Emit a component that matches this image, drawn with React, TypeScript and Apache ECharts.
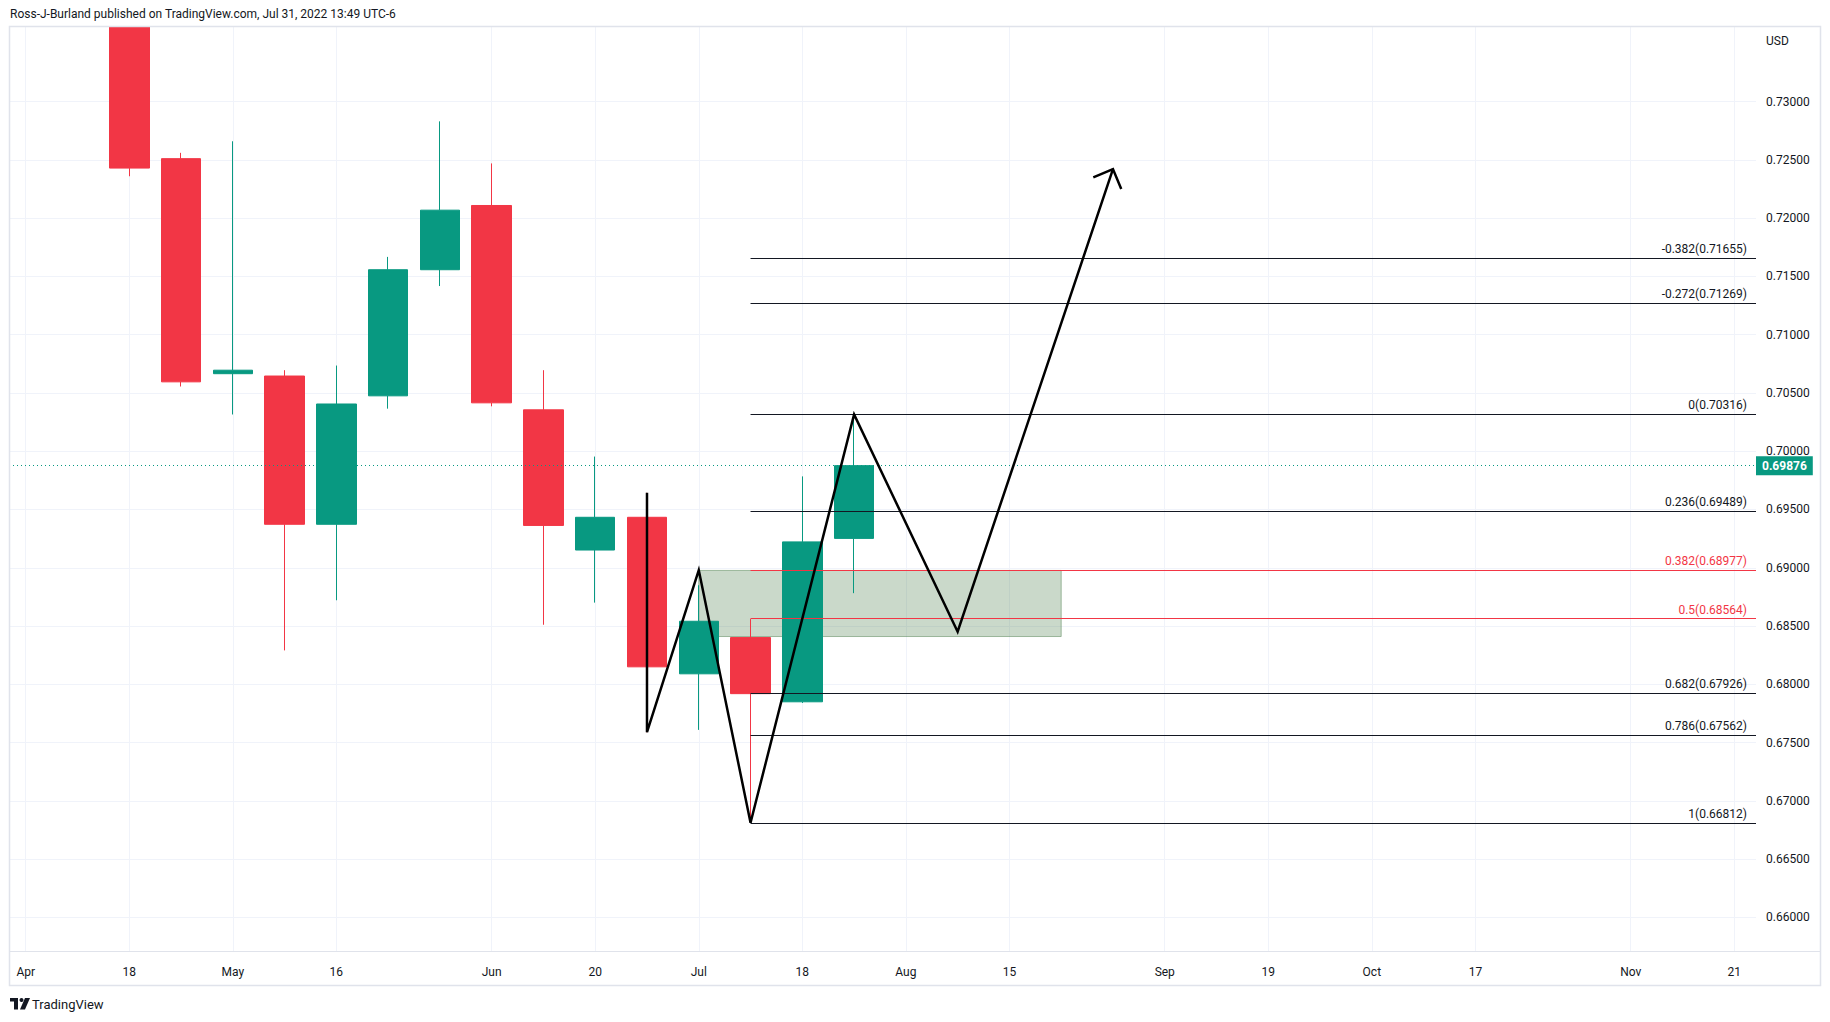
import React, { useEffect, useRef } from "react";
import * as echarts from "echarts";

// ---------- data ----------
const originDate = "2022-04-04";

const candleDates = [
  "2022-04-18", "2022-04-25", "2022-05-02", "2022-05-09", "2022-05-16",
  "2022-05-23", "2022-05-30", "2022-06-06", "2022-06-13", "2022-06-20",
  "2022-06-27", "2022-07-04", "2022-07-11", "2022-07-18", "2022-07-25",
];
const openValues = [0.738, 0.7251, 0.70665, 0.70645, 0.69373, 0.70475, 0.71557, 0.72108, 0.70355, 0.69152, 0.69433, 0.6809, 0.68401, 0.6785, 0.69252];
const closeValues = [0.72429, 0.70595, 0.70695, 0.69373, 0.70405, 0.71557, 0.72068, 0.70415, 0.69363, 0.69433, 0.6815, 0.68541, 0.6792, 0.69222, 0.69876];
const lowValues = [0.72359, 0.70555, 0.70315, 0.68291, 0.68721, 0.70365, 0.71417, 0.70385, 0.68511, 0.68701, 0.67589, 0.67609, 0.66812, 0.6784, 0.68782];
const highValues = [0.7458, 0.7256, 0.72659, 0.70695, 0.70735, 0.71667, 0.7283, 0.72469, 0.70695, 0.69954, 0.69643, 0.6885, 0.6856, 0.69784, 0.70316];

const xTickDates = [
  "2022-04-04", "2022-04-18", "2022-05-02", "2022-05-16", "2022-06-06", "2022-06-20",
  "2022-07-04", "2022-07-18", "2022-08-01", "2022-08-15", "2022-09-05", "2022-09-19",
  "2022-10-03", "2022-10-17", "2022-11-07", "2022-11-21",
];
const xTickLabels = ["Apr", "18", "May", "16", "Jun", "20", "Jul", "18", "Aug", "15", "Sep", "19", "Oct", "17", "Nov", "21"];

const yTickValues = [0.66, 0.665, 0.67, 0.675, 0.68, 0.685, 0.69, 0.695, 0.7, 0.705, 0.71, 0.715, 0.72, 0.725, 0.73];

const lastPrice = 0.69876;

const fibStartDate = "2022-07-11";
const fibLevels = ["-0.382", "-0.272", "0", "0.236", "0.382", "0.5", "0.682", "0.786", "1"];
const fibValues = [0.71655, 0.71269, 0.70316, 0.69489, 0.68977, 0.68564, 0.67926, 0.67562, 0.66812];
const fibRedLevels = ["0.382", "0.5"];

const boxStartDate = "2022-07-04";
const boxEndDate = "2022-08-22";
const boxTop = 0.68977;
const boxBottom = 0.6841;

const zigzagDates = ["2022-06-27", "2022-06-27", "2022-07-04", "2022-07-11", "2022-07-25", "2022-08-08", "2022-08-29"];
const zigzagValues = [0.69643, 0.67589, 0.6898, 0.66812, 0.70316, 0.68451, 0.7242];
// arrow head wings: [week index, price]
const arrowWingLeft = [20.62, 0.7235];
const arrowWingRight = [21.16, 0.7225];

const headerText = "Ross-J-Burland published on TradingView.com, Jul 31, 2022 13:49 UTC-6";

// ---------- helpers / styles ----------
const DAY = 86400000;
const wk = (d: string) =>
  (Date.parse(d + "T00:00:00Z") - Date.parse(originDate + "T00:00:00Z")) / (7 * DAY);

const GREEN = "#089981";
const RED = "#f23645";
const TEXT = "#131722";
const GRID = "#f0f3fa";
const FONT = "Roboto, 'Noto Sans', sans-serif";

const X_MIN = -0.3226;
const X_MAX = 33.42;
const Y_MIN = 0.65712;
const Y_MAX = 0.73648;

export default function App() {
  const ref = useRef<HTMLDivElement>(null);

  useEffect(() => {
    if (!ref.current) return;
    const chart = echarts.init(ref.current, undefined, { renderer: "svg" });

    const xTicks = xTickDates.map(wk);
    const candleData = candleDates.map((d, i) => [wk(d), openValues[i], closeValues[i], lowValues[i], highValues[i]]);
    const zigzagData = zigzagDates.map((d, i) => [wk(d), zigzagValues[i]]);
    const tip = zigzagData[zigzagData.length - 1];
    const arrowData = [arrowWingLeft, tip, arrowWingRight];

    const fibData = fibValues.map((v, i) => {
      const isRed = fibRedLevels.indexOf(fibLevels[i]) >= 0;
      const c = isRed ? RED : TEXT;
      return [
        {
          coord: [wk(fibStartDate), v],
          lineStyle: { color: c, width: 1, type: "solid" },
          label: { formatter: `${fibLevels[i]}(${v.toFixed(5)})`, color: c },
        },
        { coord: [X_MAX, v] },
      ];
    });

    const option: any = {
      animation: false,
      backgroundColor: "#ffffff",
      textStyle: { fontFamily: FONT },
      grid: { left: 9, top: 26, right: 74, bottom: 71, containLabel: false },
      xAxis: {
        type: "value",
        min: X_MIN,
        max: X_MAX,
        axisLine: { show: false },
        axisTick: { show: false, customValues: xTicks },
        axisLabel: {
          customValues: xTicks,
          formatter: (v: number) => {
            const idx = xTicks.findIndex((t) => Math.abs(t - v) < 1e-6);
            return idx >= 0 ? xTickLabels[idx] : "";
          },
          color: TEXT,
          fontSize: 12,
          fontFamily: FONT,
          margin: 15,
        },
        splitLine: { show: true, lineStyle: { color: GRID, width: 1 } },
      },
      yAxis: {
        type: "value",
        position: "right",
        min: Y_MIN,
        max: Y_MAX,
        axisLine: { show: false },
        axisTick: { show: false, customValues: yTickValues },
        axisLabel: {
          customValues: yTickValues,
          formatter: (v: number) => v.toFixed(5),
          color: TEXT,
          fontSize: 12,
          fontFamily: FONT,
          margin: 10,
        },
        splitLine: { show: true, lineStyle: { color: GRID, width: 1 } },
      },
      series: [
        {
          type: "line",
          name: "box",
          data: [],
          z: 1,
          silent: true,
          markArea: {
            silent: true,
            itemStyle: { color: "rgba(80,130,80,0.3)", borderColor: "rgba(80,130,80,0.5)", borderWidth: 1 },
            data: [[{ coord: [wk(boxStartDate), boxTop] }, { coord: [wk(boxEndDate), boxBottom] }]],
          },
          markLine: {
            silent: true,
            precision: 5,
            symbol: ["none", "none"],
            lineStyle: { color: GREEN, width: 1, type: [1, 3] },
            label: {
              show: true,
              position: "end",
              formatter: lastPrice.toFixed(5),
              backgroundColor: GREEN,
              color: "#ffffff",
              fontWeight: "bold",
              fontSize: 12,
              fontFamily: FONT,
              padding: [4, 6, 3, 6],
              distance: 0,
            },
            data: [{ yAxis: lastPrice }],
          },
        },
        {
          type: "candlestick",
          name: "AUDUSD",
          data: candleData,
          encode: { x: 0, y: [1, 2, 3, 4] },
          barWidth: 40,
          clip: true,
          z: 2,
          itemStyle: {
            color: GREEN,
            color0: RED,
            borderColor: GREEN,
            borderColor0: RED,
            borderWidth: 1,
          },
        },
        {
          type: "line",
          name: "fib",
          data: [],
          z: 3,
          silent: true,
          markLine: {
            silent: true,
            precision: 5,
            symbol: ["none", "none"],
            label: {
              show: true,
              position: "insideEndTop",
              fontSize: 12,
              fontFamily: FONT,
              distance: [9, 3],
            },
            data: fibData,
          },
        },
        {
          type: "line",
          name: "zigzag",
          data: zigzagData,
          symbol: "none",
          z: 5,
          silent: true,
          lineStyle: { color: "#000000", width: 2.5, join: "miter" },
        },
        {
          type: "line",
          name: "arrow",
          data: arrowData,
          symbol: "none",
          z: 5,
          silent: true,
          lineStyle: { color: "#000000", width: 2.5, join: "miter" },
        },
      ],
      graphic: [
        {
          type: "rect",
          silent: true,
          z: 50,
          shape: { x: 0, y: 0, width: 1830, height: 26 },
          style: { fill: "#ffffff" },
        },
        {
          type: "text",
          x: 10,
          y: 14,
          z: 60,
          silent: true,
          style: { text: headerText, fill: TEXT, fontSize: 12, fontFamily: FONT, verticalAlign: "middle" },
        },
        {
          type: "text",
          x: 1766,
          y: 41,
          silent: true,
          style: { text: "USD", fill: TEXT, fontSize: 12, fontFamily: FONT, verticalAlign: "middle" },
        },
        {
          type: "line",
          silent: true,
          shape: { x1: 9.5, y1: 951.5, x2: 1820.5, y2: 951.5 },
          style: { stroke: "#e0e3eb", lineWidth: 1 },
        },
        {
          type: "rect",
          silent: true,
          z: 100,
          shape: { x: 9.5, y: 26.5, width: 1811, height: 959 },
          style: { fill: "none", stroke: "#e0e3eb", lineWidth: 1.5 },
        },
        {
          type: "group",
          silent: true,
          children: [
            { type: "rect", shape: { x: 10, y: 998, width: 8, height: 3.5 }, style: { fill: TEXT } },
            { type: "rect", shape: { x: 14, y: 998, width: 4, height: 11.5 }, style: { fill: TEXT } },
            { type: "circle", shape: { cx: 21.5, cy: 1000, r: 2 }, style: { fill: TEXT } },
            { type: "polygon", shape: { points: [[25, 998], [30, 998], [25, 1009.5], [20, 1009.5]] }, style: { fill: TEXT } },
            {
              type: "text",
              x: 32,
              y: 1004,
              style: { text: "TradingView", fill: TEXT, fontSize: 13, fontFamily: FONT, verticalAlign: "middle" },
            },
          ],
        },
      ],
    };

    chart.setOption(option);
    return () => chart.dispose();
  }, []);

  return (
    <div
      ref={ref}
      style={{ position: "absolute", left: 0, top: 0, width: 1830, height: 1022, background: "#ffffff" }}
    />
  );
}
